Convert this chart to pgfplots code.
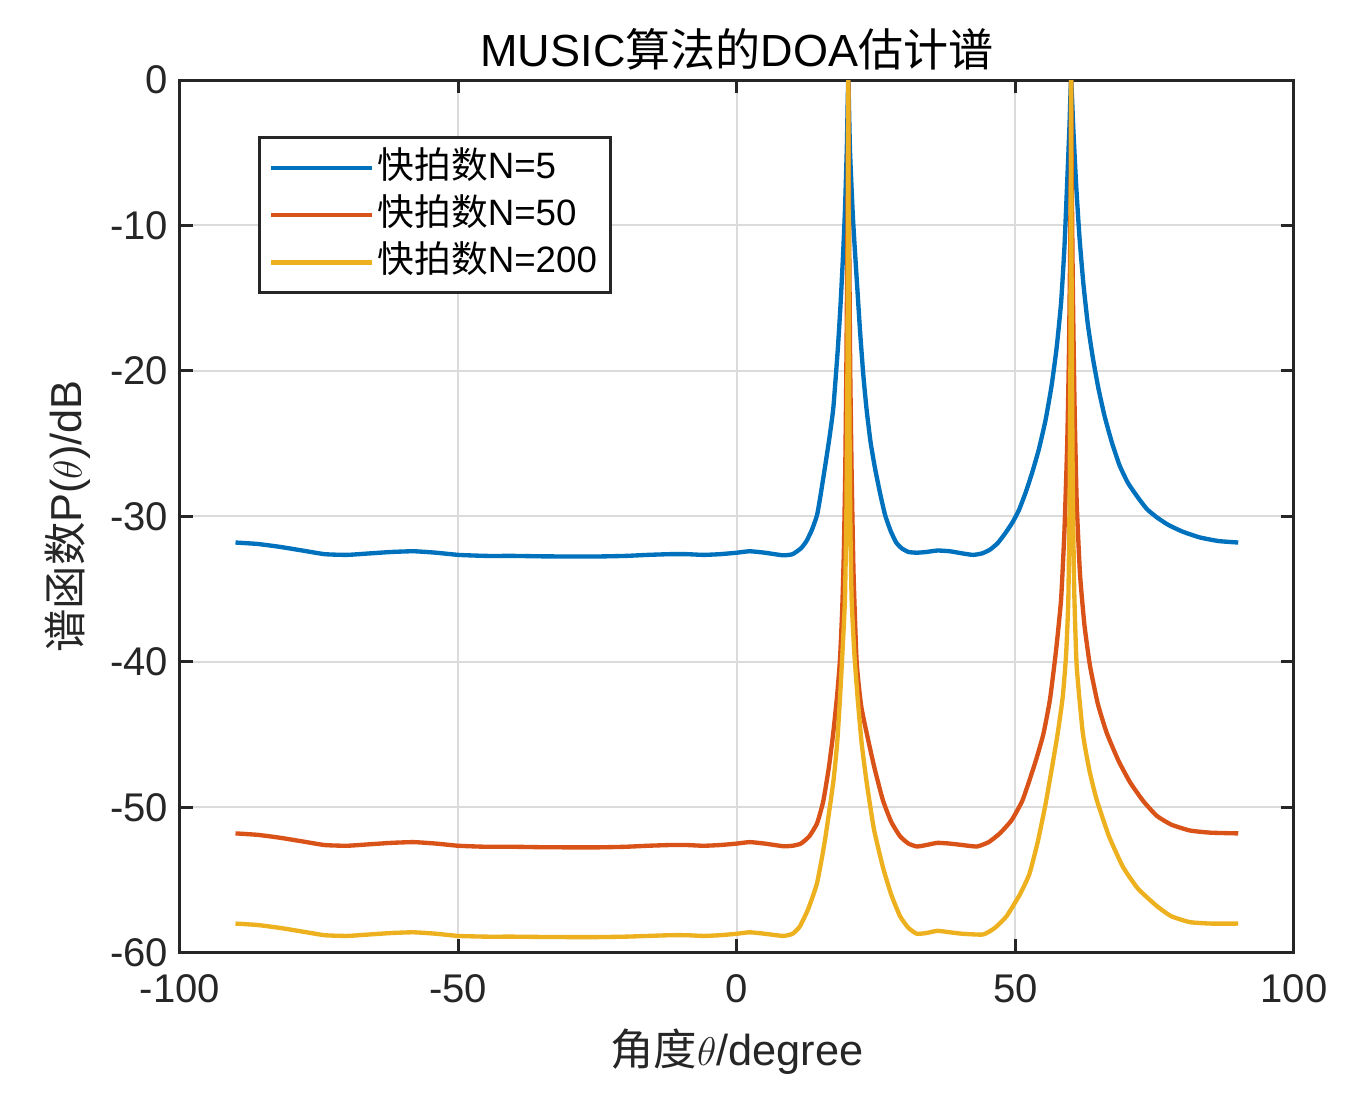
\documentclass[border=0pt]{standalone}
\usepackage{pgfplots}
\pgfplotsset{compat=1.18}
\usepackage{fontspec}
\setmainfont{Liberation Sans}
\newfontfamily\cjk{Noto Sans CJK SC}
\definecolor{mblue}{rgb}{0,0.447,0.741}
\definecolor{morange}{rgb}{0.850,0.325,0.098}
\definecolor{myellow}{rgb}{0.929,0.694,0.125}
\definecolor{axgray}{rgb}{0.15,0.15,0.15}
\begin{document}
\begin{tikzpicture}
\begin{axis}[
  scale only axis, width=334pt, height=261.6pt,
  xmin=-100, xmax=100, ymin=-60, ymax=0,
  xtick={-100,-50,0,50,100}, ytick={-60,-50,-40,-30,-20,-10,0},
  grid=major, major grid style={draw=black!14, line width=0.6pt},
  tick align=inside, major tick length=4pt,
  axis line style={draw=axgray, line width=0.9pt},
  every tick/.style={draw=axgray, line width=0.9pt},
  /pgf/number format/assume math mode=true,
  ticklabel style={font=\fontsize{12}{14}\selectfont, text=axgray},
  xticklabel style={yshift=-3pt},
  title={MUSIC{\cjk 算法的}DOA{\cjk 估计谱}},
  title style={at={(axis description cs:0.5,1.0125)}, anchor=center, font=\fontsize{13.5}{16}\selectfont, text=black},
  xlabel={{\cjk 角度}$\theta$/degree},
  xlabel style={at={(axis description cs:0.5,-0.113)}, anchor=center, font=\fontsize{13}{15}\selectfont, text=axgray},
  ylabel={{\cjk 谱函数}P($\theta$)/dB},
  ylabel style={at={(axis description cs:-0.1005,0.5)}, anchor=center, font=\fontsize{13}{15}\selectfont, text=axgray},
  legend style={at={(axis description cs:0.07,0.936)}, anchor=north west, draw=axgray, line width=0.9pt, fill=white,
    font=\fontsize{11}{13}\selectfont, inner xsep=3pt, inner ysep=2pt, row sep=0pt,
    nodes={text height=9pt, text depth=2.8pt, inner sep=1.2pt},
    /tikz/every even column/.append style={column sep=3pt}},
  legend cell align=left,
  legend image code/.code={\draw[#1] (0pt,0pt) -- (30pt,0pt);},
  every axis plot/.append style={line width=1.3pt, line join=round, smooth, tension=0.3},
]
\addplot[mblue] coordinates {
(-90,-31.8) (-86,-31.9) (-82,-32.1) (-78,-32.35) (-74,-32.6) (-70,-32.65) (-66,-32.55) (-62,-32.45)
(-58,-32.4) (-54,-32.5) (-50,-32.65) (-45,-32.72) (-40,-32.72) (-35,-32.75) (-30,-32.76) (-25,-32.76)
(-20,-32.72) (-16,-32.65) (-12,-32.6) (-9,-32.6) (-6,-32.65) (-3,-32.6) (0,-32.5) (2.3,-32.4)
(5,-32.5) (8.3,-32.68) (10,-32.6) (11.5,-32.2) (12.5,-31.7) (13.5,-30.9) (14.4,-29.9) (15.0,-28.6) (15.7,-26.9) (16.5,-24.9)
(17.3,-22.6) (18.1,-18.6) (18.6,-15.5) (19.0,-12.5) (19.4,-9.0) (19.75,-4.5) (20,0) (20.3,-4.8) (20.8,-9.2)
(21.2,-11.8) (21.6,-14.2) (22.1,-17.2) (22.7,-20.3) (23.3,-22.7) (24.0,-24.9) (24.8,-26.7) (25.7,-28.4) (26.6,-29.9) (27.6,-31.0) (28.6,-31.8) (29.6,-32.2)
(30.8,-32.45) (32.3,-32.5) (34,-32.45) (36,-32.35) (38.2,-32.4) (40.5,-32.55) (42.4,-32.65) (44,-32.55)
(45.4,-32.3) (46.8,-31.85) (48.2,-31.15) (49.5,-30.4) (50.6,-29.6) (51.8,-28.4) (53.0,-27.0) (54.2,-25.4) (55.4,-23.4) (56.5,-21.0) (57.4,-18.4) (58.2,-15.3)
(58.8,-11.5) (59.3,-7.0) (59.7,-3.2) (60,0) (60.4,-3.4) (60.9,-7.2) (61.5,-10.8) (62.2,-14.0) (63.0,-16.8) (63.9,-19.1) (64.9,-21.2) (66.0,-23.1) (67.3,-24.9)
(68.7,-26.5) (70.2,-27.7) (71.8,-28.6) (73.6,-29.5) (75.5,-30.1) (77.5,-30.6) (80,-31.05) (83.1,-31.45) (86.5,-31.7) (90,-31.8)
};
\addlegendentry{{\cjk 快拍数}N=5}
\addplot[morange] coordinates {
(-90,-51.8) (-86,-51.9) (-82,-52.1) (-78,-52.35) (-74,-52.6) (-70,-52.65) (-66,-52.55) (-62,-52.45)
(-58,-52.4) (-54,-52.5) (-50,-52.65) (-45,-52.72) (-40,-52.72) (-35,-52.75) (-30,-52.76) (-25,-52.76)
(-20,-52.72) (-16,-52.65) (-12,-52.6) (-9,-52.6) (-6,-52.65) (-3,-52.6) (0,-52.5) (2.3,-52.4)
(5,-52.5) (8.3,-52.68) (10,-52.65) (11.5,-52.5) (13,-52.0) (14.4,-51.1) (15.5,-49.6) (16.5,-47.3)
(17.3,-44.9) (18.0,-42.3) (18.5,-39.9) (18.9,-36.5) (19.2,-32.5) (19.45,-27) (19.65,-20) (19.8,-13)
(19.92,-6) (20,0) (20.08,-6) (20.2,-13) (20.35,-20) (20.6,-27) (20.95,-34) (21.5,-40.0)
(22.3,-43.0) (23.3,-44.9) (24.7,-47.3) (26.2,-49.5) (27.7,-51) (29.3,-52.0) (30.8,-52.5) (32.3,-52.7)
(34,-52.6) (36,-52.45) (38.2,-52.5) (40.5,-52.6) (43.1,-52.7) (45.2,-52.4) (47.2,-51.8) (49.3,-50.9)
(51.3,-49.5) (53.5,-47.0) (55.0,-45.0) (56.2,-42.6) (57.3,-39.2) (58.2,-35.7) (58.8,-31) (59.3,-25)
(59.6,-19) (59.82,-12) (59.93,-6) (60,0) (60.1,-6) (60.3,-14) (60.6,-22) (61.0,-29)
(61.6,-34) (62.4,-37.5) (63.4,-40.3) (64.8,-42.9) (66.4,-44.9) (68.5,-46.8) (70.6,-48.3) (73,-49.6)
(75.4,-50.6) (78,-51.2) (81.3,-51.6) (85,-51.75) (90,-51.8)
};
\addlegendentry{{\cjk 快拍数}N=50}
\addplot[myellow] coordinates {
(-90,-58.0) (-86,-58.1) (-82,-58.3) (-78,-58.55) (-74,-58.8) (-70,-58.85) (-66,-58.75) (-62,-58.65)
(-58,-58.6) (-54,-58.7) (-50,-58.85) (-45,-58.9) (-40,-58.9) (-35,-58.92) (-30,-58.93) (-25,-58.93)
(-20,-58.9) (-16,-58.85) (-12,-58.8) (-9,-58.8) (-6,-58.85) (-3,-58.8) (0,-58.7) (2.3,-58.6)
(5,-58.7) (8.3,-58.85) (10,-58.7) (11.3,-58.2) (12.8,-57.0) (14.4,-55.2) (15.8,-52.3) (17.3,-48.3)
(18.0,-45.6) (18.5,-42.6) (19.0,-39.0) (19.4,-35.7) (19.65,-30) (19.82,-22) (19.93,-12) (20,0)
(20.07,-12) (20.18,-22) (20.35,-30) (20.6,-35.7) (21.1,-39.5) (21.7,-42.6) (22.4,-45.6) (23.3,-48.3)
(24.6,-51.5) (26.2,-54.1) (27.7,-56.0) (29.3,-57.5) (30.8,-58.3) (32.3,-58.7) (34,-58.65) (36,-58.5)
(38.2,-58.6) (40.5,-58.7) (44.2,-58.75) (46.3,-58.3) (48.4,-57.5) (50.8,-56.0) (52.5,-54.6) (54.0,-52.4)
(55.4,-49.8) (56.6,-47.2) (57.6,-44.9) (58.5,-42.4) (59.1,-39.5) (59.5,-35.7) (59.72,-29) (59.87,-20)
(59.95,-10) (60,0) (60.05,-10) (60.15,-20) (60.3,-28) (60.55,-35) (61.0,-40.3) (62.1,-44.9)
(63.3,-47.5) (64.6,-49.5) (66.8,-52) (69.3,-54.1) (72,-55.6) (75.4,-56.8) (78,-57.5) (81.3,-57.9)
(85,-58.0) (90,-58.0)
};
\addlegendentry{{\cjk 快拍数}N=200}
\end{axis}
\path (current axis.south west) ++(-53.9pt,-43.5pt) coordinate (bl);
\path (current axis.north east) ++(22.2pt,24pt) coordinate (tr);
\path (bl) rectangle (tr);
\end{tikzpicture}
\end{document}
